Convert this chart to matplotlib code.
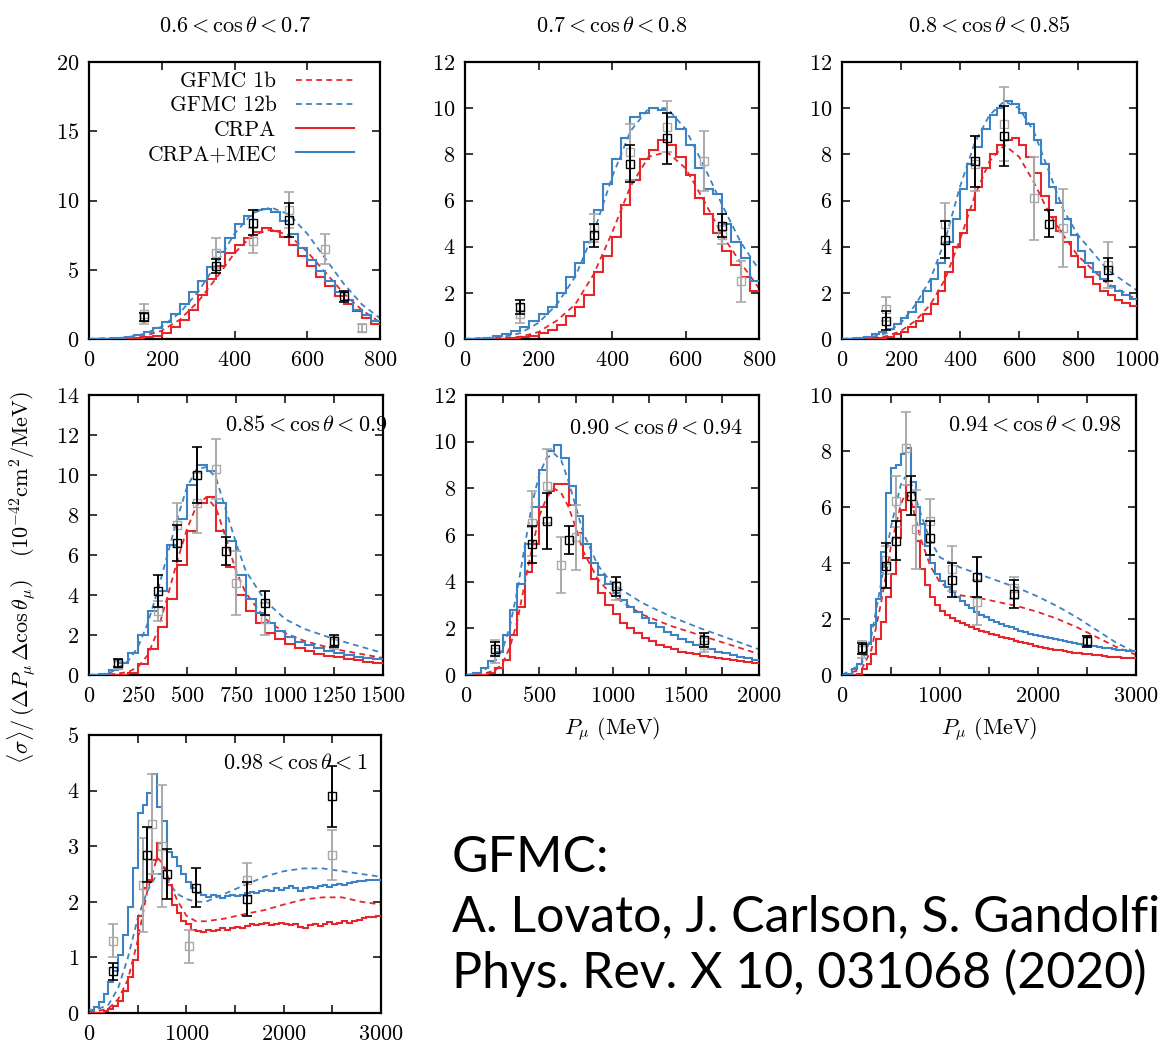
import numpy as np
import matplotlib
matplotlib.use("Agg")
import matplotlib.pyplot as plt
from matplotlib.ticker import MultipleLocator
from matplotlib.lines import Line2D

plt.rcParams['font.family'] = 'serif'
plt.rcParams['font.serif'] = ['cmr10']
plt.rcParams['mathtext.fontset'] = 'cm'
plt.rcParams['axes.formatter.use_mathtext'] = True

RED = '#e5262b'
BLUE = '#3d82c2'
GRAY = '#a9a9a9'

#  Data

# 0.6 < cos < 0.7
p1_crpa = [0, 0, 0, 0, 0.02, 0.05, 0.12, 0.22, 0.4, 0.85, 1.4, 2.1, 3.2, 4.3, 5.3, 6.2,
           6.8, 7.3, 7.7, 8.0, 7.8, 7.4, 6.8, 6.0, 5.3, 4.5, 3.8, 3.1, 2.5, 2.0, 1.5, 1.1]
p1_mec = [0, 0, 0.02, 0.08, 0.15, 0.3, 0.5, 0.8, 1.2, 1.8, 2.5, 3.4, 4.2, 5.2, 6.3, 7.3,
          8.3, 8.9, 9.3, 9.4, 9.2, 8.5, 7.6, 6.6, 5.7, 4.9, 4.2, 3.4, 2.8, 2.1, 1.7, 1.3]
p1_gfmc_x = [0, 100, 150, 200, 250, 300, 350, 400, 450, 500, 550, 600, 650, 700, 750, 800]
p1_gfmc1b = [0, 0.05, 0.2, 0.6, 1.4, 2.7, 4.4, 6.2, 7.5, 7.9, 7.5, 6.3, 4.8, 3.3, 2.1, 1.2]
p1_gfmc12b = [0, 0.1, 0.35, 0.9, 1.9, 3.4, 5.4, 7.6, 9.1, 9.5, 9.0, 7.6, 5.8, 4.0, 2.5, 1.5]
p1_bx = [150, 350, 450, 550, 700]
p1_by = [1.6, 5.3, 8.4, 8.6, 3.1]
p1_be = [0.3, 0.5, 0.9, 1.2, 0.4]
p1_gx = [150, 350, 450, 550, 650, 750]
p1_gy = [1.8, 6.2, 7.1, 9.3, 6.5, 0.8]
p1_ge = [0.7, 1.1, 0.9, 1.3, 1.1, 0.3]

# 0.7 < cos < 0.8
p2_crpa = [0, 0, 0, 0, 0.02, 0.05, 0.08, 0.15, 0.25, 0.4, 0.6, 1.0, 1.4, 1.9, 2.9, 3.6,
           4.4, 5.8, 6.9, 7.8, 8.2, 8.6, 8.4, 7.9, 7.1, 6.1, 5.4, 4.6, 3.8, 3.2, 2.7, 2.1]
p2_mec = [0, 0.02, 0.05, 0.12, 0.2, 0.35, 0.5, 0.8, 1.1, 1.4, 2.0, 2.7, 3.3, 4.2, 5.6, 6.7,
          7.8, 8.7, 9.6, 9.8, 10.0, 9.9, 9.6, 9.1, 8.4, 7.4, 6.5, 6.3, 5.0, 4.2, 3.5, 2.5]
p2_gfmc_x = [0, 100, 150, 200, 250, 300, 350, 400, 450, 500, 550, 600, 650, 700, 750, 800]
p2_gfmc1b = [0, 0.03, 0.1, 0.3, 0.8, 1.5, 2.8, 4.6, 6.6, 7.9, 8.1, 7.4, 6.0, 4.5, 3.3, 2.2]
p2_gfmc12b = [0, 0.08, 0.25, 0.7, 1.5, 2.7, 4.6, 7.0, 9.0, 10.0, 10.0, 9.1, 7.5, 5.8, 4.2, 3.0]
p2_bx = [150, 350, 450, 550, 700]
p2_by = [1.4, 4.5, 7.6, 8.7, 4.9]
p2_be = [0.3, 0.5, 0.8, 1.1, 0.5]
p2_gx = [150, 350, 450, 550, 650, 700, 750]
p2_gy = [1.1, 4.8, 8.1, 9.2, 7.7, 4.5, 2.5]
p2_ge = [0.4, 0.6, 1.2, 1.1, 1.3, 0.4, 0.9]

# 0.8 < cos < 0.85
p3_crpa = [0, 0, 0, 0, 0.02, 0.05, 0.1, 0.2, 0.3, 0.5,
           0.8, 1.1, 1.5, 2.1, 2.9, 4.0, 4.6, 5.6, 6.6, 7.4,
           8.0, 8.4, 8.6, 8.7, 8.4, 7.9, 7.2, 6.2, 5.3, 4.7,
           4.2, 3.6, 3.1, 2.7, 2.4, 2.1, 1.9, 1.7, 1.55, 1.45]
p3_mec = [0, 0.02, 0.05, 0.1, 0.2, 0.3, 0.45, 0.65, 0.9, 1.15,
          1.6, 2.1, 2.6, 3.3, 4.2, 5.2, 6.5, 7.6, 8.3, 9.1,
          9.7, 10.0, 10.3, 10.2, 9.8, 9.3, 8.6, 7.6, 6.6, 5.9,
          5.2, 4.5, 3.8, 3.3, 2.9, 2.6, 2.3, 2.1, 1.9, 1.75]
p3_gfmc_x = [0, 100, 150, 200, 250, 300, 350, 400, 450, 500, 550, 600, 650, 700, 750, 800, 900, 1000]
p3_gfmc1b = [0, 0.04, 0.12, 0.35, 0.8, 1.5, 2.6, 4.3, 6.2, 7.7, 8.4, 7.9, 6.8, 5.5, 4.5, 3.6, 2.4, 1.7]
p3_gfmc12b = [0, 0.08, 0.25, 0.7, 1.5, 2.6, 4.3, 6.6, 8.5, 9.7, 10.3, 10.0, 9.0, 7.3, 5.6, 4.5, 3.0, 2.1]
p3_bx = [150, 350, 450, 550, 700, 900]
p3_by = [0.8, 4.3, 7.7, 8.8, 5.0, 3.0]
p3_be = [0.4, 0.8, 1.1, 1.3, 0.6, 0.5]
p3_gx = [150, 350, 450, 550, 650, 750, 900]
p3_gy = [1.3, 5.0, 7.6, 9.3, 6.1, 4.8, 3.2]
p3_ge = [0.5, 0.9, 1.2, 1.6, 1.8, 1.7, 1.0]

# 0.85 < cos < 0.9
p4_crpa = [0, 0, 0, 0.02, 0.1, 0.55, 1.3, 2.4, 3.8, 5.5,
           7.2, 8.6, 8.9, 7.2, 5.4, 4.0, 3.2, 2.6, 2.1, 1.8,
           1.55, 1.35, 1.2, 1.07, 0.97, 0.88, 0.8, 0.73, 0.67, 0.6]
p4_mec = [0, 0.05, 0.25, 0.6, 1.1, 2.0, 3.2, 4.2, 6.5, 7.8,
          9.5, 10.5, 10.2, 8.6, 6.7, 5.0, 3.8, 3.1, 2.6, 2.2,
          1.9, 1.65, 1.5, 1.35, 1.22, 1.1, 1.0, 0.92, 0.85, 0.78]
p4_gfmc_x = [0, 100, 200, 250, 300, 350, 400, 450, 500, 550, 600, 650, 700, 750, 800, 900, 1000, 1100, 1250, 1500]
p4_gfmc1b = [0, 0.01, 0.15, 0.4, 1.0, 2.2, 3.9, 5.7, 7.3, 8.5, 8.9, 8.3, 6.8, 5.2, 4.1, 2.8, 2.1, 1.7, 1.3, 0.85]
p4_gfmc12b = [0, 0.05, 0.7, 1.4, 2.6, 4.2, 6.0, 7.8, 9.4, 10.3, 10.4, 9.8, 8.2, 6.6, 5.2, 3.7, 2.8, 2.3, 1.8, 1.1]
p4_bx = [150, 350, 450, 550, 700, 900, 1250]
p4_by = [0.6, 4.2, 6.6, 10.0, 6.2, 3.6, 1.7]
p4_be = [0.2, 0.8, 0.9, 1.4, 0.7, 0.6, 0.3]
p4_gx = [150, 350, 450, 550, 650, 750, 900, 1250]
p4_gy = [0.5, 3.2, 7.5, 8.6, 10.3, 4.6, 2.8, 1.6]
p4_ge = [0.2, 0.5, 1.1, 1.5, 1.5, 1.6, 0.8, 0.3]

# 0.90 < cos < 0.94
p5_crpa = [0, 0, 0.02, 0.1, 0.3, 0.65, 1.7, 2.9, 4.4, 5.6,
           7.2, 7.9, 8.2, 8.2, 7.3, 6.1, 5.0, 4.1, 3.5, 3.0,
           2.6, 2.25, 2.0, 1.8, 1.6, 1.45, 1.3, 1.2, 1.1, 1.0,
           0.95, 0.88, 0.82, 0.76, 0.72, 0.68, 0.64, 0.6, 0.55, 0.5]
p5_mec = [0.02, 0.1, 0.3, 0.6, 1.0, 1.7, 2.8, 3.9, 5.6, 7.2,
          8.8, 9.6, 9.85, 9.3, 8.1, 6.8, 5.6, 4.8, 4.3, 3.9,
          3.5, 3.2, 2.9, 2.7, 2.45, 2.25, 2.05, 1.85, 1.7, 1.55,
          1.42, 1.3, 1.2, 1.1, 1.0, 0.93, 0.85, 0.78, 0.72, 0.66]
p5_gfmc_x = [0, 100, 200, 250, 300, 350, 400, 450, 500, 550, 600, 650, 700, 750, 800, 900, 1000,
             1200, 1400, 1600, 1800, 2000]
p5_gfmc1b = [0, 0.02, 0.2, 0.5, 1.2, 2.3, 3.9, 5.4, 6.8, 7.6, 8.0, 7.8, 7.2, 6.3, 5.3, 4.1, 3.4,
             2.6, 2.1, 1.7, 1.3, 0.9]
p5_gfmc12b = [0, 0.08, 0.6, 1.1, 2.1, 3.6, 5.5, 7.3, 8.6, 9.3, 9.5, 9.2, 8.3, 7.2, 6.1, 4.7, 3.9,
              3.1, 2.5, 2.0, 1.55, 1.1]
p5_bx = [200, 450, 550, 700, 1025, 1625]
p5_by = [1.1, 5.6, 6.6, 5.8, 3.8, 1.5]
p5_be = [0.3, 0.8, 1.2, 0.6, 0.4, 0.3]
p5_gx = [200, 450, 550, 650, 750, 1025, 1625]
p5_gy = [1.0, 6.5, 8.1, 4.7, 5.9, 3.6, 1.3]
p5_ge = [0.5, 1.4, 1.6, 1.2, 1.4, 0.4, 0.3]

# 0.94 < cos < 0.98
p6_crpa = [0, 0, 0, 0.05, 0.2, 0.4, 0.75, 1.3, 1.9, 2.8,
           3.6, 4.9, 5.9, 6.8, 6.0, 4.8, 3.8, 3.2, 2.8, 2.5,
           2.3, 2.15, 2.02, 1.92, 1.84, 1.77, 1.7, 1.64, 1.58, 1.52,
           1.47, 1.42, 1.37, 1.32, 1.27, 1.22, 1.17, 1.13, 1.09, 1.05,
           1.01, 0.97, 0.94, 0.91, 0.88, 0.85, 0.82, 0.8, 0.78, 0.76,
           0.74, 0.72, 0.7, 0.68, 0.66, 0.65, 0.63, 0.62, 0.61, 0.6]
p6_mec = [0, 0.05, 0.2, 0.4, 0.7, 1.1, 1.8, 2.7, 4.4, 6.5,
          7.4, 7.5, 7.9, 8.1, 6.9, 6.0, 5.4, 4.6, 4.0, 3.6,
          3.35, 3.15, 2.95, 2.8, 2.65, 2.5, 2.38, 2.26, 2.16, 2.06,
          1.98, 1.9, 1.82, 1.76, 1.7, 1.64, 1.58, 1.52, 1.48, 1.44,
          1.4, 1.36, 1.32, 1.28, 1.24, 1.2, 1.17, 1.14, 1.11, 1.08,
          1.05, 1.02, 1.0, 0.97, 0.95, 0.93, 0.91, 0.89, 0.87, 0.85]
p6_gfmc_x = [0, 200, 300, 400, 500, 600, 650, 700, 800, 900, 1000, 1200, 1400, 1600, 1800, 2000,
             2200, 2400, 2600, 2800, 3000]
p6_gfmc1b = [0, 0.2, 0.9, 2.6, 4.6, 6.1, 6.5, 6.3, 4.9, 3.9, 3.3, 2.85, 2.75, 2.6, 2.45, 2.25,
             2.0, 1.7, 1.35, 1.0, 0.72]
p6_gfmc12b = [0, 0.4, 1.4, 3.3, 5.3, 6.8, 7.1, 6.9, 5.8, 4.8, 4.2, 3.85, 3.6, 3.35, 3.1, 2.8,
              2.45, 2.05, 1.6, 1.15, 0.8]
p6_bx = [200, 450, 550, 700, 900, 1125, 1375, 1750, 2500]
p6_by = [0.95, 3.9, 4.8, 6.4, 4.9, 3.4, 3.5, 2.9, 1.2]
p6_be = [0.2, 0.8, 0.7, 0.7, 0.6, 0.6, 0.7, 0.5, 0.2]
p6_gx = [200, 450, 550, 650, 750, 900, 1125, 1375, 1750, 2500]
p6_gy = [0.9, 4.1, 6.2, 8.1, 5.2, 5.5, 3.8, 2.6, 3.1, 1.2]
p6_ge = [0.3, 0.5, 0.9, 1.3, 1.4, 0.8, 0.8, 0.8, 0.4, 0.2]

# 0.98 < cos < 1
p7_crpa = [0, 0, 0, 0.03, 0.07, 0.13, 0.22, 0.4, 0.65, 0.95,
           1.75, 2.25, 2.4, 2.75, 3.05, 2.6, 2.3, 1.95, 1.8, 1.65,
           1.6, 1.5, 1.47, 1.45, 1.5, 1.47, 1.5, 1.52, 1.5, 1.53,
           1.55, 1.53, 1.57, 1.6, 1.58, 1.6, 1.62, 1.58, 1.6, 1.62,
           1.6, 1.58, 1.6, 1.55, 1.52, 1.58, 1.6, 1.57, 1.6, 1.63,
           1.6, 1.62, 1.65, 1.62, 1.66, 1.68, 1.7, 1.72, 1.73, 1.74]
p7_mec = [0.05, 0.1, 0.2, 0.35, 0.55, 0.75, 1.05, 1.4, 1.9, 2.6,
          3.6, 3.75, 3.95, 4.3, 3.7, 3.45, 2.9, 2.8, 2.65, 2.5,
          2.35, 2.25, 2.15, 2.12, 2.08, 2.12, 2.1, 2.07, 2.1, 2.13,
          2.1, 2.12, 2.15, 2.18, 2.15, 2.2, 2.22, 2.2, 2.25, 2.22,
          2.25, 2.28, 2.25, 2.2, 2.25, 2.27, 2.25, 2.28, 2.3, 2.27,
          2.3, 2.32, 2.3, 2.33, 2.35, 2.37, 2.38, 2.4, 2.4, 2.4]
p7_gfmc_x = [0, 200, 300, 400, 500, 600, 700, 750, 800, 900, 1000, 1100, 1200, 1400, 1600, 1800,
             2000, 2200, 2400, 2600, 2800, 3000]
p7_gfmc1b = [0, 0.08, 0.25, 0.6, 1.3, 2.2, 2.8, 2.7, 2.5, 2.05, 1.75, 1.65, 1.65, 1.7, 1.78, 1.85,
             1.95, 2.04, 2.08, 2.08, 2.0, 1.95]
p7_gfmc12b = [0, 0.15, 0.45, 1.0, 1.7, 2.2, 2.5, 2.5, 2.4, 2.15, 2.05, 2.0, 2.0, 2.15, 2.3, 2.45,
              2.55, 2.6, 2.6, 2.55, 2.5, 2.45]
p7_bx = [250, 600, 800, 1100, 1625, 2500]
p7_by = [0.75, 2.85, 2.5, 2.25, 2.05, 3.9]
p7_be = [0.15, 0.5, 0.45, 0.35, 0.3, 0.55]
p7_gx = [250, 550, 650, 750, 1025, 1625, 2500]
p7_gy = [1.3, 2.3, 3.4, 3.0, 1.2, 2.4, 2.85]
p7_ge = [0.3, 0.85, 0.9, 1.1, 0.3, 0.3, 0.45]

labels = [r'$0.6 < \cos\theta < 0.7$', r'$0.7 < \cos\theta < 0.8$', r'$0.8 < \cos\theta < 0.85$',
          r'$0.85 < \cos\theta < 0.9$', r'$0.90 < \cos\theta < 0.94$', r'$0.94 < \cos\theta < 0.98$',
          r'$0.98 < \cos\theta < 1$']

#  Layout (pixel boxes: left, top, right, bottom)
W, H = 1162, 1047
fig = plt.figure(figsize=(W / 100, H / 100), dpi=100)


def px_rect(l, t, r, b):
    return [l / W, 1 - b / H, (r - l) / W, (b - t) / H]


panels = [
    dict(box=(89, 62, 380, 339), xmax=800, ymax=20, xmaj=200, xmin=None, ymaj=5,
         crpa=p1_crpa, mec=p1_mec, gfx=p1_gfmc_x, g1=p1_gfmc1b, g12=p1_gfmc12b,
         bx=p1_bx, by=p1_by, be=p1_be, gx=p1_gx, gy=p1_gy, ge=p1_ge),
    dict(box=(465, 62, 759, 339), xmax=800, ymax=12, xmaj=200, xmin=None, ymaj=2,
         crpa=p2_crpa, mec=p2_mec, gfx=p2_gfmc_x, g1=p2_gfmc1b, g12=p2_gfmc12b,
         bx=p2_bx, by=p2_by, be=p2_be, gx=p2_gx, gy=p2_gy, ge=p2_ge),
    dict(box=(842, 62, 1137, 339), xmax=1000, ymax=12, xmaj=200, xmin=None, ymaj=2,
         crpa=p3_crpa, mec=p3_mec, gfx=p3_gfmc_x, g1=p3_gfmc1b, g12=p3_gfmc12b,
         bx=p3_bx, by=p3_by, be=p3_be, gx=p3_gx, gy=p3_gy, ge=p3_ge),
    dict(box=(89, 395, 383, 675), xmax=1500, ymax=14, xmaj=250, xmin=None, ymaj=2,
         crpa=p4_crpa, mec=p4_mec, gfx=p4_gfmc_x, g1=p4_gfmc1b, g12=p4_gfmc12b,
         bx=p4_bx, by=p4_by, be=p4_be, gx=p4_gx, gy=p4_gy, ge=p4_ge),
    dict(box=(466, 395, 759, 675), xmax=2000, ymax=12, xmaj=500, xmin=250, ymaj=2,
         crpa=p5_crpa, mec=p5_mec, gfx=p5_gfmc_x, g1=p5_gfmc1b, g12=p5_gfmc12b,
         bx=p5_bx, by=p5_by, be=p5_be, gx=p5_gx, gy=p5_gy, ge=p5_ge),
    dict(box=(842, 395, 1136, 675), xmax=3000, ymax=10, xmaj=1000, xmin=500, ymaj=2,
         crpa=p6_crpa, mec=p6_mec, gfx=p6_gfmc_x, g1=p6_gfmc1b, g12=p6_gfmc12b,
         bx=p6_bx, by=p6_by, be=p6_be, gx=p6_gx, gy=p6_gy, ge=p6_ge),
    dict(box=(89, 735, 381, 1013), xmax=3000, ymax=5, xmaj=1000, xmin=500, ymaj=1,
         crpa=p7_crpa, mec=p7_mec, gfx=p7_gfmc_x, g1=p7_gfmc1b, g12=p7_gfmc12b,
         bx=p7_bx, by=p7_by, be=p7_be, gx=p7_gx, gy=p7_gy, ge=p7_ge),
]

FS = 16
dash = (0, (3.2, 2.4))
axes = []
for i, p in enumerate(panels):
    ax = fig.add_axes(px_rect(*p['box']))
    axes.append(ax)
    edges = np.linspace(0, p['xmax'], len(p['crpa']) + 1)

    ax.plot(p['gfx'], p['g1'], color=RED, ls=dash, lw=1.3, zorder=2)
    ax.plot(p['gfx'], p['g12'], color=BLUE, ls=dash, lw=1.3, zorder=2)
    ax.stairs(p['crpa'], edges, color=RED, lw=1.5, baseline=None, zorder=3)
    ax.stairs(p['mec'], edges, color=BLUE, lw=1.5, baseline=None, zorder=3)

    ax.errorbar(p['gx'], p['gy'], yerr=p['ge'], fmt='s', ms=5.5, mfc='none', mec=GRAY,
                ecolor=GRAY, elinewidth=1.4, capsize=3.5, capthick=1.2, zorder=4)
    ax.errorbar(p['bx'], p['by'], yerr=p['be'], fmt='s', ms=5.5, mfc='none', mec='black',
                ecolor='black', elinewidth=1.4, capsize=3.5, capthick=1.2, zorder=5)

    ax.set_xlim(0, p['xmax'])
    ax.set_ylim(0, p['ymax'])
    ax.xaxis.set_major_locator(MultipleLocator(p['xmaj']))
    ax.yaxis.set_major_locator(MultipleLocator(p['ymaj']))
    if p['xmin']:
        ax.xaxis.set_minor_locator(MultipleLocator(p['xmin']))
    ax.tick_params(which='both', direction='in', top=True, right=True, length=6, width=1.1)
    ax.tick_params(axis='x', labelsize=FS, pad=8)
    ax.tick_params(axis='y', labelsize=FS, pad=7)
    for s in ax.spines.values():
        s.set_linewidth(1.6)

# titles for the top row, in-panel labels for the others
for i in range(3):
    l, t, r, b = panels[i]['box']
    fig.text((l + r) / 2 / W, 1 - 25 / H, labels[i], ha='center', va='center', fontsize=FS)
axes[3].text(1.015, 0.893, labels[3], transform=axes[3].transAxes, ha='right', va='center', fontsize=FS)
axes[4].text(0.945, 0.885, labels[4], transform=axes[4].transAxes, ha='right', va='center', fontsize=FS)
axes[5].text(0.952, 0.893, labels[5], transform=axes[5].transAxes, ha='right', va='center', fontsize=FS)
axes[6].text(0.952, 0.9, labels[6], transform=axes[6].transAxes, ha='right', va='center', fontsize=FS)

axes[4].set_xlabel(r'$P_\mu$ (MeV)', fontsize=FS, labelpad=7)
axes[5].set_xlabel(r'$P_\mu$ (MeV)', fontsize=FS, labelpad=7)

fig.text(22 / W, 1 - 578 / H,
         r'$\langle\sigma\rangle/\,(\Delta P_\mu\,\Delta\cos\theta_\mu)$   $(10^{-42}\mathrm{cm}^2/\mathrm{MeV})$',
         rotation=90, ha='center', va='center', fontsize=FS)

# legend in the first panel
handles = [Line2D([], [], color=RED, ls=dash, lw=1.3),
           Line2D([], [], color=BLUE, ls=dash, lw=1.3),
           Line2D([], [], color=RED, lw=1.5),
           Line2D([], [], color=BLUE, lw=1.5)]
axes[0].legend(handles, ['GFMC 1b', 'GFMC 12b', 'CRPA', 'CRPA+MEC'], loc='upper right',
               bbox_to_anchor=(0.955, 1.012), markerfirst=False, frameon=False, fontsize=15.5,
               handlelength=2.7, labelspacing=0.22, borderaxespad=0.2, handletextpad=0.9)

# reference note
for txt, yb in [('GFMC:', 872), ('A. Lovato, J. Carlson, S. Gandolfi, N. Rocco, R. Schiavilla', 931),
                ('Phys. Rev. X 10, 031068 (2020)', 988)]:
    fig.text(452 / W, 1 - yb / H, txt, family='Lato', fontsize=36, ha='left', va='baseline')

plt.savefig('out.png', dpi=100)
